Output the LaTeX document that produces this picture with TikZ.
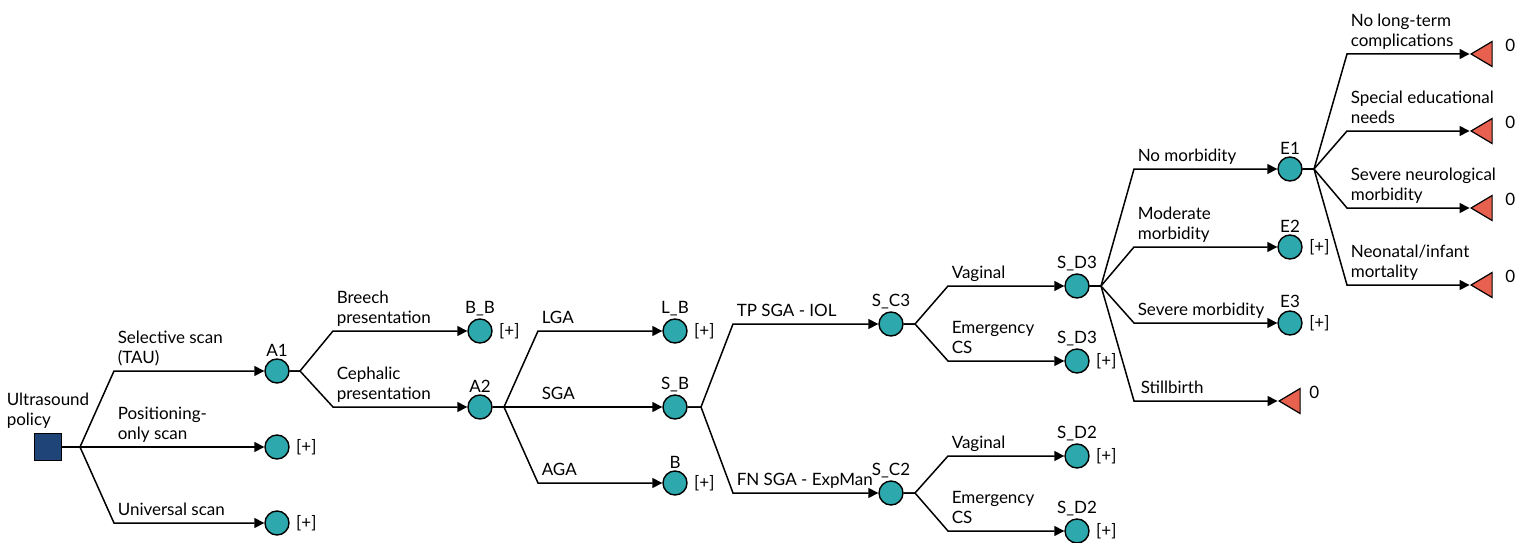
\documentclass[tikz,border=0pt]{standalone}
\usepackage{fontspec}
\setmainfont{Lato}
\usetikzlibrary{arrows.meta,shapes.geometric,calc}
\definecolor{chancefill}{HTML}{2DA9AD}
\definecolor{decfill}{HTML}{1F4478}
\definecolor{termfill}{HTML}{E8604E}
\begin{document}
\begin{tikzpicture}[x=1pt,y=-1pt,font=\fontsize{17}{20}\selectfont,
  chance/.style={circle,draw=black,line width=1.4pt,fill=chancefill,minimum size=24pt,inner sep=0pt},
  decision/.style={rectangle,draw=black,line width=1.2pt,fill=decfill,minimum size=27pt,inner sep=0pt},
  term/.style={isosceles triangle,isosceles triangle stretches,shape border rotate=180,draw=black,line width=1.2pt,fill=termfill,minimum width=25pt,minimum height=21pt,inner sep=0pt},
  br/.style={line width=1.5pt,-{Triangle[length=10pt,width=10pt]}},
  lab/.style={anchor=south west,align=left,inner xsep=3pt,inner ysep=3pt,text depth=4pt},
  nl/.style={label distance=0pt,inner sep=2pt},
  plus/.style={label={[label distance=3pt]right:[+]}},
  zero/.style={label={[label distance=#1,yshift=9pt]right:0}},
  zero/.default=9pt
]
\useasboundingbox (0,0) rectangle (1523,543);

% nodes
\node[decision,label={[align=left,inner sep=2pt,yshift=2pt]above:Ultrasound\\policy}] (sq) at (48,447) {};
\node[chance,label={[nl]above:A1}] (A1) at (277,371) {};
\node[chance,plus] (P) at (277,447) {};
\node[chance,plus] (U) at (277,523) {};
\node[chance,plus,label={[nl]above:B\_B}] (BB) at (480,331) {};
\node[chance,label={[nl]above:A2}] (A2) at (480,407) {};
\node[chance,plus,label={[nl]above:L\_B}] (LB) at (675,331) {};
\node[chance,label={[nl]above:S\_B}] (SB) at (675,407) {};
\node[chance,plus,label={[nl]above:B}] (Bn) at (675,483) {};
\node[chance,label={[nl]above:S\_C3}] (SC3) at (891,324) {};
\node[chance,label={[nl]above:S\_C2}] (SC2) at (891,493) {};
\node[chance,label={[nl]above:S\_D3}] (SD3a) at (1077,286) {};
\node[chance,plus,label={[nl]above:S\_D3}] (SD3b) at (1077,361) {};
\node[chance,plus,label={[nl]above:S\_D2}] (SD2a) at (1077,456) {};
\node[chance,plus,label={[nl]above:S\_D2}] (SD2b) at (1077,531) {};
\node[chance,label={[nl]above:E1}] (E1) at (1290,169) {};
\node[chance,plus,label={[nl]above:E2}] (E2) at (1290,247) {};
\node[chance,plus,label={[nl]above:E3}] (E3) at (1290,323) {};
\node[term,zero=5pt] (T0) at (1293,401) {};
\node[term,zero] (T1) at (1485,54) {};
\node[term,zero] (T2) at (1485,131) {};
\node[term,zero] (T3) at (1485,208) {};
\node[term,zero] (T4) at (1485,285) {};

% branch points
\coordinate (p0) at (80,447);
\coordinate (pA1) at (300,371);
\coordinate (pA2) at (504,407);
\coordinate (pSB) at (701,407);
\coordinate (pSC3) at (915,324);
\coordinate (pSC2) at (915,493);
\coordinate (pSD3) at (1101,286);
\coordinate (pE1) at (1314,169);

% connectors
\draw[br] (sq) -- (p0) -- ($(p0|-A1)+(34,0)$) node[lab]{Selective scan\\(TAU)} -- (A1);
\draw[br] (sq) -- (p0) -- ($(p0)+(34,0)$) node[lab]{Positioning-\\only scan} -- (P);
\draw[br] (sq) -- (p0) -- ($(p0|-U)+(34,0)$) node[lab]{Universal scan} -- (U);

\draw[br] (A1) -- (pA1) -- ($(pA1|-BB)+(33,0)$) node[lab]{Breech\\presentation} -- (BB);
\draw[br] (A1) -- (pA1) -- ($(pA1|-A2)+(33,0)$) node[lab]{Cephalic\\presentation} -- (A2);

\draw[br] (A2) -- (pA2) -- ($(pA2|-LB)+(34,0)$) node[lab]{LGA} -- (LB);
\draw[br] (A2) -- (pA2) -- ($(pA2)+(34,0)$) node[lab]{SGA} -- (SB);
\draw[br] (A2) -- (pA2) -- ($(pA2|-Bn)+(34,0)$) node[lab]{AGA} -- (Bn);

\draw[br] (SB) -- (pSB) -- ($(pSB|-SC3)+(32,0)$) node[lab]{TP SGA - IOL} -- (SC3);
\draw[br] (SB) -- (pSB) -- ($(pSB|-SC2)+(32,0)$) node[lab]{FN SGA - ExpMan} -- (SC2);

\draw[br] (SC3) -- (pSC3) -- ($(pSC3|-SD3a)+(33,0)$) node[lab]{Vaginal} -- (SD3a);
\draw[br] (SC3) -- (pSC3) -- ($(pSC3|-SD3b)+(33,0)$) node[lab]{Emergency\\CS} -- (SD3b);
\draw[br] (SC2) -- (pSC2) -- ($(pSC2|-SD2a)+(33,0)$) node[lab]{Vaginal} -- (SD2a);
\draw[br] (SC2) -- (pSC2) -- ($(pSC2|-SD2b)+(33,0)$) node[lab]{Emergency\\CS} -- (SD2b);

\draw[br] (SD3a) -- (pSD3) -- ($(pSD3|-E1)+(33,0)$) node[lab]{No morbidity} -- (E1);
\draw[br] (SD3a) -- (pSD3) -- ($(pSD3|-E2)+(33,0)$) node[lab]{Moderate\\morbidity} -- (E2);
\draw[br] (SD3a) -- (pSD3) -- ($(pSD3|-E3)+(33,0)$) node[lab]{Severe morbidity} -- (E3);
\draw[br] (SD3a) -- (pSD3) -- ($(pSD3|-T0)+(33,0)$) node[lab,xshift=3pt]{Stillbirth} -- (T0);

\draw[br] (E1) -- (pE1) -- ($(pE1|-T1)+(33,0)$) node[lab]{No long-term\\complications} -- (T1);
\draw[br] (E1) -- (pE1) -- ($(pE1|-T2)+(33,0)$) node[lab]{Special educational\\needs} -- (T2);
\draw[br] (E1) -- (pE1) -- ($(pE1|-T3)+(33,0)$) node[lab]{Severe neurological\\morbidity} -- (T3);
\draw[br] (E1) -- (pE1) -- ($(pE1|-T4)+(33,0)$) node[lab]{Neonatal/infant\\mortality} -- (T4);
\end{tikzpicture}
\end{document}
